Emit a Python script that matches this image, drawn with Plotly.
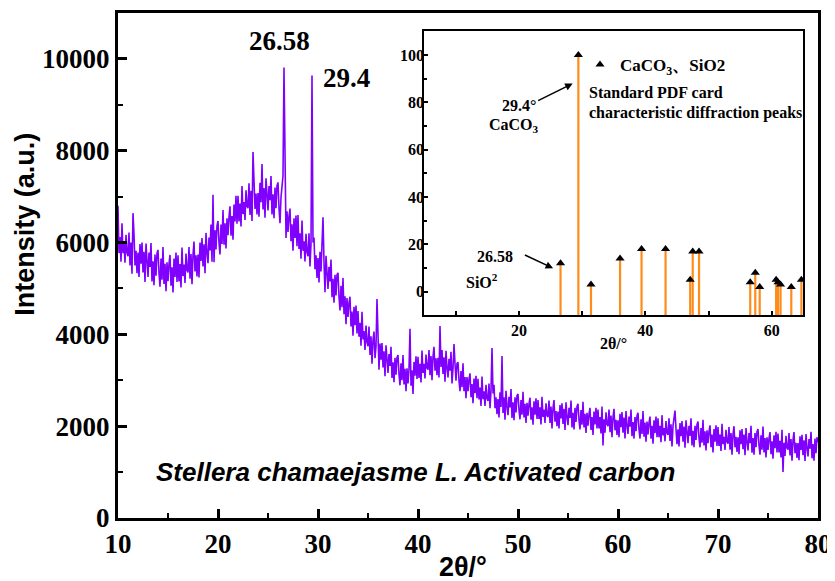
import plotly.graph_objects as go

# ---------------- main XRD pattern (2θ step 0.1°, 10°–80°) ----------------
theta_start = 10.0
theta_step = 0.1
intensity = [
    6800, 5770, 6120, 5580, 6420, 5770, 5990, 5560, 6170, 5780,  # 10
    5700, 6220, 5500, 6000, 5320, 6640, 6180, 5500, 5820, 5330,  # 11
    5780, 5250, 5970, 5540, 6000, 5350, 5800, 5140, 5980, 5520,  # 12
    5250, 5780, 5470, 5990, 5150, 5590, 5070, 5740, 5280, 5770,  # 13
    5840, 5330, 5040, 5650, 5190, 5900, 5100, 5540, 4940, 5570,  # 14
    5160, 5530, 5730, 5060, 5460, 4910, 5650, 5250, 5780, 5140,  # 15
    5720, 5150, 5530, 5020, 5890, 5270, 5520, 5120, 5760, 5400,  # 16
    5350, 5900, 5210, 5750, 5090, 5730, 6020, 5370, 5720, 5260,  # 17
    5740, 5240, 6000, 5600, 6100, 5480, 5960, 5330, 6210, 5780,  # 18
    5550, 6110, 5830, 6390, 5580, 7040, 5570, 6270, 5850, 6370,  # 19
    6470, 5990, 5740, 6390, 5970, 6710, 5950, 6420, 5870, 6530,  # 20
    6160, 6560, 6790, 6150, 6580, 6060, 6830, 6460, 7020, 6410,  # 21
    7020, 6460, 6850, 6350, 7230, 6620, 6880, 6490, 7140, 6790,  # 22
    6750, 7290, 6600, 7130, 6470, 7970, 7380, 6730, 7070, 6610,  # 23
    7080, 6560, 7300, 6880, 7710, 6720, 7190, 6540, 7400, 6950,  # 24
    6700, 7230, 6920, 7450, 6610, 7050, 6530, 7200, 6750, 7240,  # 25
    7310, 6750, 6420, 6980, 7200, 7450, 9810, 7100, 6100, 6680,  # 26
    6230, 6570, 6740, 6030, 6400, 5820, 6530, 6100, 6590, 5920,  # 27
    6600, 5860, 6200, 5650, 6480, 5820, 6030, 5590, 6190, 5790,  # 28
    5700, 6200, 5480, 5970, 9640, 6000, 6110, 5420, 5720, 5230,  # 29
    5660, 5130, 5800, 5370, 5800, 6550, 5570, 4920, 5710, 5250,  # 30
    4990, 5470, 5150, 5630, 4810, 5210, 4690, 5300, 4850, 5300,  # 31
    5340, 4820, 4520, 5060, 4590, 5230, 4440, 4830, 4220, 4790,  # 32
    4380, 4680, 4820, 4170, 4500, 3970, 4600, 4200, 4630, 4020,  # 33
    4510, 3950, 4250, 3750, 4490, 3890, 4070, 3660, 4190, 3830,  # 34
    3740, 4170, 3550, 3960, 3360, 3870, 4060, 3480, 3730, 4770,  # 35
    3670, 3230, 3800, 3450, 3810, 3280, 3630, 3090, 3760, 3380,  # 36
    3160, 3570, 3310, 3730, 3050, 3390, 2960, 3490, 3120, 3500,  # 37
    3550, 3130, 2890, 3370, 3000, 3550, 2910, 3250, 2760, 3260,  # 38
    2930, 3240, 4120, 2880, 3220, 2700, 3400, 3100, 3520, 3030,  # 39
    3510, 3050, 3360, 2950, 3650, 3160, 3360, 3040, 3560, 3270,  # 40
    3230, 3660, 3110, 3530, 3000, 3510, 3730, 3210, 3480, 3110,  # 41
    3490, 3060, 4180, 3290, 3660, 3140, 3500, 2970, 3640, 3270,  # 42
    3060, 3470, 3210, 3620, 2930, 3270, 3790, 3360, 2990, 3370,  # 43
    3390, 2990, 2760, 3200, 2850, 3370, 2760, 3070, 2610, 3070,  # 44
    2760, 3020, 3150, 2630, 2920, 2500, 3040, 2720, 3100, 2610,  # 45
    3030, 2580, 2840, 2440, 3080, 2590, 2760, 2440, 2900, 2600,  # 46
    2550, 2930, 2390, 2770, 3700, 2710, 2900, 2390, 2630, 2260,  # 47
    2590, 2190, 2740, 2420, 3530, 2290, 2630, 2140, 2770, 2430,  # 48
    2240, 2640, 2410, 2810, 2180, 2520, 2130, 2630, 2300, 2670,  # 49
    2700, 2350, 2150, 2570, 2250, 2750, 2190, 2490, 2070, 2510,  # 50
    2230, 2480, 2620, 2140, 2410, 2030, 2540, 2250, 2610, 2160,  # 51
    2570, 2160, 2410, 2040, 2640, 2200, 2360, 2070, 2500, 2240,  # 52
    2200, 2560, 2070, 2430, 1950, 2390, 2570, 2100, 2330, 2000,  # 53
    2320, 1950, 2460, 2170, 2500, 2050, 2380, 1920, 2520, 2200,  # 54
    2020, 2400, 2180, 2560, 1970, 2290, 1930, 2400, 2090, 2430,  # 55
    2490, 2130, 1930, 2350, 2030, 2530, 1970, 2270, 1850, 2290,  # 56
    2010, 2260, 2400, 1920, 2200, 1810, 2320, 2040, 2400, 1950,  # 57
    2360, 1950, 2200, 1840, 2430, 1580, 2150, 1860, 2300, 2040,  # 58
    2000, 2360, 1870, 2230, 1760, 2190, 2380, 1910, 2140, 1810,  # 59
    2130, 1760, 2270, 1980, 2310, 1860, 2190, 1730, 2330, 2010,  # 60
    1830, 2210, 1990, 2360, 1780, 2090, 1730, 2200, 1890, 2230,  # 61
    2290, 1930, 1730, 2150, 1830, 2330, 1770, 2080, 1660, 2100,  # 62
    1820, 2070, 2210, 1730, 2010, 1620, 2130, 1850, 2210, 1760,  # 63
    2170, 1760, 2010, 1650, 2240, 1800, 1960, 1670, 2110, 1850,  # 64
    1810, 2170, 1680, 2040, 1560, 2000, 2180, 2340, 1940, 1610,  # 65
    1930, 1560, 2070, 1780, 2110, 1660, 1990, 1530, 2130, 1810,  # 66
    1630, 2010, 1790, 2170, 1580, 1900, 1540, 2010, 1700, 2040,  # 67
    2100, 1740, 1540, 1960, 1640, 2140, 1580, 1890, 1470, 1910,  # 68
    1630, 1880, 2020, 1540, 1820, 1430, 1940, 1660, 2020, 1570,  # 69
    1980, 1570, 1820, 1460, 2050, 1610, 1770, 1480, 1920, 1660,  # 70
    1620, 1980, 1490, 1850, 1380, 1820, 2000, 1540, 1770, 1440,  # 71
    1760, 1390, 1910, 1610, 1940, 1500, 1820, 1370, 1960, 1650,  # 72
    1470, 1850, 1630, 2010, 1420, 1740, 1380, 1850, 1540, 1880,  # 73
    1940, 1580, 1380, 1800, 1490, 1990, 1430, 1740, 1320, 1760,  # 74
    1480, 1730, 1870, 1390, 1670, 1290, 1800, 1520, 1880, 1430,  # 75
    1840, 1430, 1680, 1320, 1920, 1000, 1640, 1350, 1790, 1530,  # 76
    1490, 1850, 1360, 1720, 1250, 1690, 1870, 1410, 1640, 1310,  # 77
    1630, 1260, 1780, 1480, 1810, 1370, 1690, 1240, 1830, 1520,  # 78
    1340, 1720, 1510, 1880, 1300, 1610, 1250, 1730, 1410, 1760,  # 79
    1650,                                                        # 80
]
two_theta = [round(theta_start + theta_step * i, 2) for i in range(len(intensity))]

# ---------------- inset: standard PDF card peaks ----------------
pdf_pos = [26.58, 29.4, 31.4, 36.0, 39.4, 43.2, 47.1, 47.5, 48.5,
           56.6, 57.4, 58.1, 60.7, 61.0, 61.4, 63.1, 64.7]
pdf_int = [12, 100, 3, 14, 18, 18, 5, 17, 17,
           4, 8, 2, 5, 4, 3, 2, 5]

main_x_range = [10, 80]
main_y_range = [0, 11000]
inset_x_range = [5, 65]
inset_y_range = [-10, 110]

PURPLE = "#7F00FF"
ORANGE = "#FF8C1A"
SERIF = "Liberation Serif"
SANS = "Liberation Sans"

fig = go.Figure()

fig.add_trace(go.Scatter(
    x=two_theta, y=intensity, mode="lines",
    line=dict(color=PURPLE, width=1.6), showlegend=False,
    xaxis="x", yaxis="y"))

# sticks from the inset bottom to each intensity
stick_x, stick_y = [], []
for p, h in zip(pdf_pos, pdf_int):
    stick_x += [p, p, None]
    stick_y += [inset_y_range[0], h, None]
fig.add_trace(go.Scatter(
    x=stick_x, y=stick_y, mode="lines",
    line=dict(color=ORANGE, width=2.2), showlegend=False,
    xaxis="x2", yaxis="y2"))

fig.add_trace(go.Scatter(
    x=pdf_pos, y=pdf_int, mode="markers",
    marker=dict(symbol="triangle-up", size=8, color="black"),
    name="CaCO<sub>3</sub>、SiO2", showlegend=True,
    xaxis="x2", yaxis="y2"))

tickfont_main = dict(family=SERIF, size=27, color="black", weight="bold")
tickfont_inset = dict(family=SERIF, size=16, color="black", weight="bold")

# the page body keeps an 8 px default margin, so the figure is drawn 8 px smaller
fig.update_layout(
    width=827, height=573,
    margin=dict(l=110, r=17, t=2, b=63),
    paper_bgcolor="white", plot_bgcolor="white",
    xaxis=dict(range=main_x_range, dtick=10, tick0=10,
               ticks="inside", ticklen=9, tickwidth=3, tickcolor="black",
               minor=dict(dtick=5, ticklen=5, tickwidth=2, ticks="inside", tickcolor="black"),
               showline=True, linewidth=3, linecolor="black", mirror=True,
               showgrid=False, zeroline=False, tickfont=tickfont_main),
    yaxis=dict(range=main_y_range, dtick=2000, tick0=0, tickformat="d",
               ticks="inside", ticklen=9, tickwidth=3, tickcolor="black",
               minor=dict(dtick=1000, ticklen=5, tickwidth=2, ticks="inside", tickcolor="black"),
               showline=True, linewidth=3, linecolor="black", mirror=True,
               showgrid=False, zeroline=False, tickfont=tickfont_main),
    xaxis2=dict(domain=[0.4374, 0.979], anchor="y2", range=inset_x_range,
                dtick=20, tick0=0, ticks="inside", ticklen=4, tickwidth=2, tickcolor="black",
                minor=dict(dtick=10, ticklen=4, tickwidth=2, ticks="inside", tickcolor="black"),
                showline=True, linewidth=2, linecolor="black", mirror=True,
                showgrid=False, zeroline=False, tickfont=tickfont_inset),
    yaxis2=dict(domain=[0.4014, 0.9636], anchor="x2", range=inset_y_range,
                dtick=20, tick0=0, ticks="inside", ticklen=4, tickwidth=2, tickcolor="black",
                minor=dict(dtick=10, ticklen=3, tickwidth=1.5, ticks="inside", tickcolor="black"),
                showline=True, linewidth=2, linecolor="black", mirror=True,
                showgrid=False, zeroline=False, tickfont=tickfont_inset,
                ticklabelstandoff=-5),
    legend=dict(x=0.66, y=0.897, xanchor="left", yanchor="middle",
                bgcolor="rgba(0,0,0,0)", borderwidth=0,
                font=dict(family=SERIF, size=17, color="black", weight="bold")),
)

ann = []
# axis titles
ann.append(dict(text="Intensity (a.u.)", xref="paper", yref="paper", x=-0.1329, y=0.5827,
                textangle=-90, showarrow=False, xanchor="center", yanchor="middle",
                font=dict(family=SANS, size=27, color="black", weight="bold")))
ann.append(dict(text="2θ/°", xref="paper", yref="paper", x=0.493, y=-0.0965,
                showarrow=False, xanchor="center", yanchor="middle",
                font=dict(family=SANS, size=27, color="black", weight="bold")))
# main peak labels
ann.append(dict(text="26.58", xref="x", yref="y", x=26.1, y=10380, showarrow=False,
                font=dict(family=SERIF, size=27, color="black", weight="bold")))
ann.append(dict(text="29.4", xref="x", yref="y", x=32.8, y=9580, showarrow=False,
                font=dict(family=SERIF, size=27, color="black", weight="bold")))
# sample name
ann.append(dict(text="<i>Stellera chamaejasme L. Activated carbon</i>", xref="x", yref="y",
                x=39.7, y=1000, showarrow=False,
                font=dict(family=SANS, size=26, color="black", weight="bold")))
# inset texts
fi = dict(family=SERIF, size=16, color="black", weight="bold")
ann.append(dict(text="29.4°", xref="x2", yref="y2", x=20.0, y=78.7, showarrow=False, font=fi))
ann.append(dict(text="CaCO<sub>3</sub>", xref="x2", yref="y2", x=19.2, y=70.3, showarrow=False, font=fi))
ann.append(dict(text="26.58", xref="x2", yref="y2", x=16.2, y=14.8, showarrow=False, font=fi))
ann.append(dict(text="SiO<sup>2</sup>", xref="x2", yref="y2", x=14.1, y=4.7, showarrow=False, font=fi))
ann.append(dict(text="Standard PDF card", xref="x2", yref="y2", x=30.8, y=84.2,
                xanchor="left", showarrow=False, font=fi))
ann.append(dict(text="characteristic diffraction peaks", xref="x2", yref="y2", x=30.8, y=75.3,
                xanchor="left", showarrow=False, font=fi))
ann.append(dict(text="2θ/°", xref="x2", yref="paper", x=35.0, y=0.346, showarrow=False,
                yanchor="middle", font=fi))
# arrows
ann.append(dict(text="", xref="x2", yref="y2", x=28.5, y=88, axref="x2", ayref="y2",
                ax=22.8, ay=80.4, showarrow=True, arrowhead=2, arrowsize=1, arrowwidth=1.5,
                arrowcolor="black"))
ann.append(dict(text="", xref="x2", yref="y2", x=25.4, y=9.9, axref="x2", ayref="y2",
                ax=20.7, ay=15.8, showarrow=True, arrowhead=2, arrowsize=1, arrowwidth=1.5,
                arrowcolor="black"))
fig.update_layout(annotations=ann)

fig.write_html("out.html")
